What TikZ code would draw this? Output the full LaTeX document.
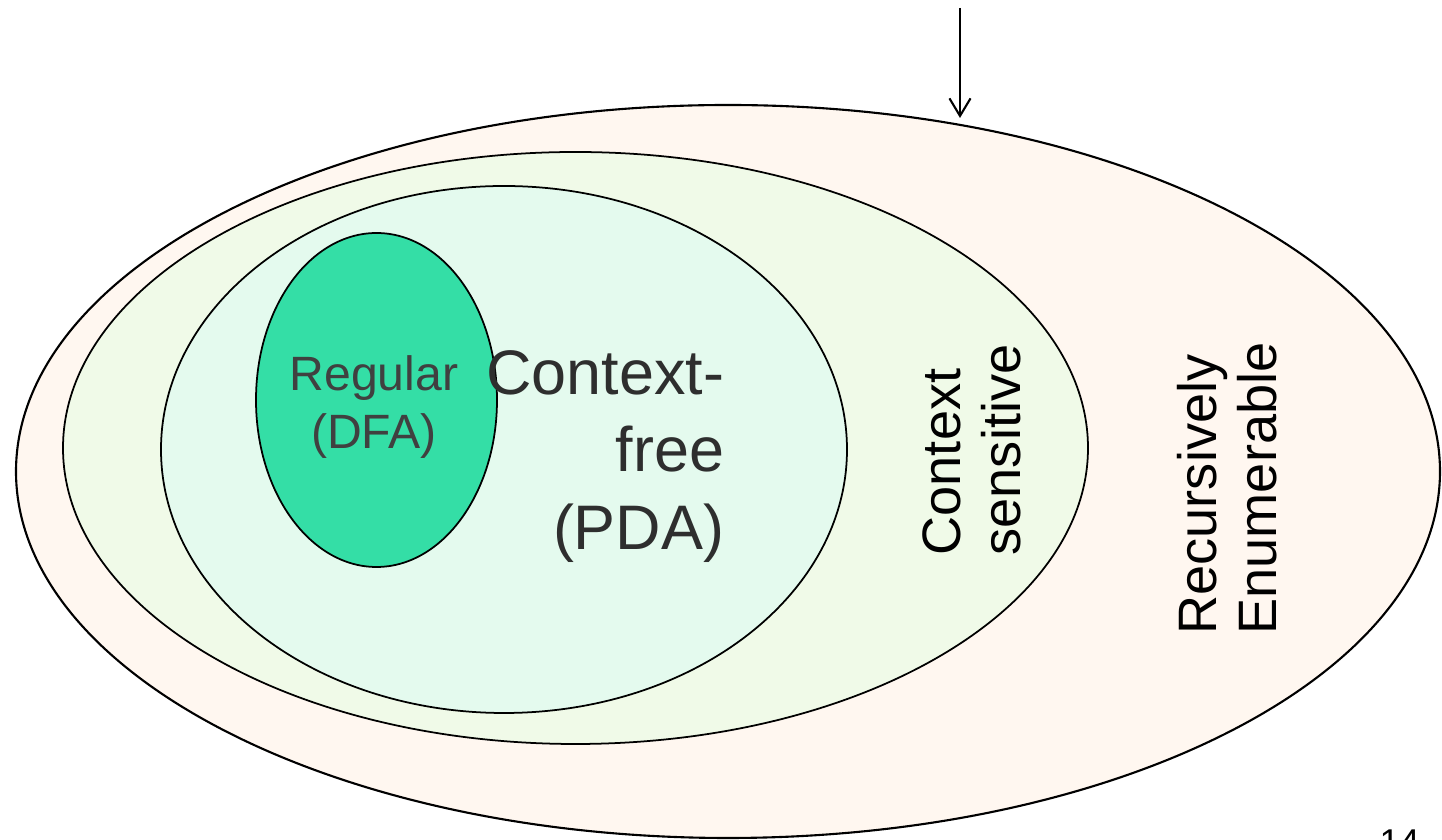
\documentclass[tikz,border=0pt]{standalone}
\usepackage{xcolor}
\usepackage{fontspec}
\setmainfont{Liberation Sans}
\usetikzlibrary{arrows.meta}
\tikzset{>={Straight Barb[length=5pt,width=6pt]}}
\definecolor{repeach}{RGB}{255,247,240}
\definecolor{cslight}{RGB}{240,250,232}
\definecolor{cfmint}{RGB}{228,250,238}
\definecolor{regmint}{RGB}{52,222,166}
\tikzset{
  langset/.style={draw=black, line width=0.5pt},
  langlabel/.style={inner sep=0pt, text=black}
}

\begin{document}
\begin{tikzpicture}
   \useasboundingbox (0,0) rectangle (14.42,8.40);
   % nested language classes
   \filldraw[langset, line width=0.6pt, fill=repeach] (7.28,3.685) ellipse (7.12 and 3.665);
   \filldraw[langset, fill=cslight] (5.755,3.92) ellipse (5.125 and 2.96);
   \filldraw[langset, fill=cfmint] (5.04,3.905) ellipse (3.43 and 2.635);
   \filldraw[langset, fill=regmint] (3.765,4.40) ellipse (1.205 and 1.67);

   \node[langlabel, text=black!75, align=center, font=\fontsize{13.7}{16.5}\selectfont]
      (reg) at (3.74,4.325) {Regular\\(DFA)};
   \node[langlabel, text=black!82, align=right, anchor=east, font=\fontsize{17.9}{22}\selectfont]
      (cf) at (7.25,3.835) {Context-\\free\\(PDA)};
   \node[langlabel, rotate=90, align=left, font=\fontsize{15.4}{17}\selectfont]
      (cs) at (9.72,3.90) {Context\\sensitive};
   \node[langlabel, rotate=90, align=left, font=\fontsize{15.4}{17}\selectfont]
      (re) at (12.275,3.515) {Recursively\\Enumerable};

   \coordinate (arrowtop) at (9.60,8.32);
   \coordinate (arrowtip) at (9.60,7.22);
   \draw[->, line width=0.6pt] (arrowtop) -- (arrowtip);

   \node[langlabel, anchor=base west, font=\fontsize{10.2}{12}\selectfont]
      (pagenum) at (13.79,-0.15) {14};
\end{tikzpicture}
\end{document}
